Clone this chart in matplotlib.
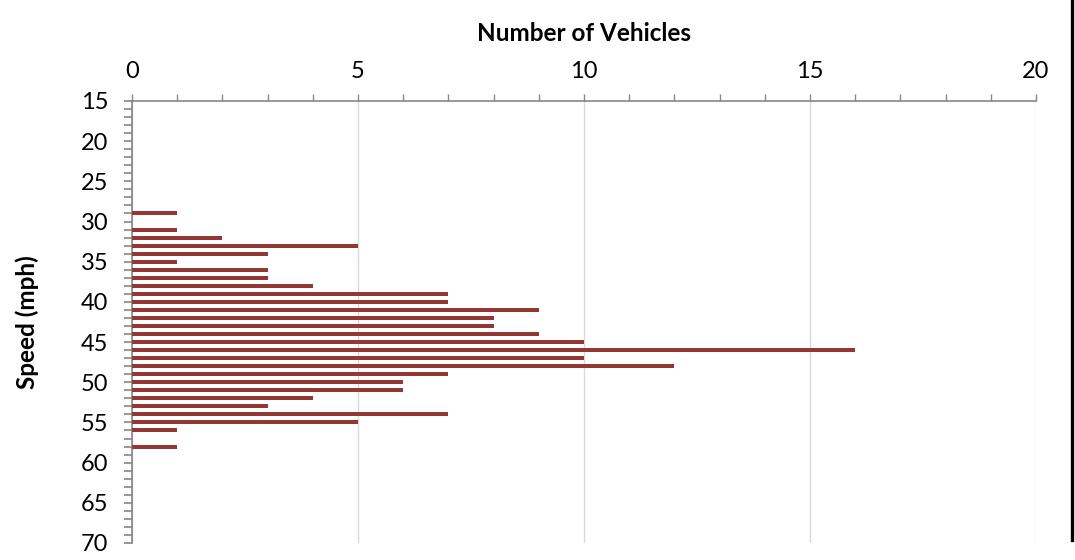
import matplotlib
matplotlib.use('Agg')
import matplotlib.pyplot as plt
from matplotlib.ticker import MultipleLocator

speeds = [29, 30, 31, 32, 33, 34, 35, 36, 37, 38, 39, 40, 41, 42, 43,
          44, 45, 46, 47, 48, 49, 50, 51, 52, 53, 54, 55, 56, 57, 58]
vehicles = [1, 0, 1, 2, 5, 3, 1, 3, 3, 4, 7, 7, 9, 8, 8,
            9, 10, 16, 10, 12, 7, 6, 6, 4, 3, 7, 5, 1, 0, 1]

plt.rcParams['font.family'] = ['Lato', 'DejaVu Sans']

fig = plt.figure(figsize=(10.75, 5.6), dpi=100)
ax = fig.add_axes([0.1228, 0.0304, 0.8409, 0.7893])

ax.barh(speeds, vehicles, height=0.5, color='#943634', zorder=3)

ax.set_xlim(0, 20)
ax.set_ylim(70, 15)
ax.xaxis.set_major_locator(MultipleLocator(5))
ax.xaxis.set_minor_locator(MultipleLocator(1))
ax.yaxis.set_major_locator(MultipleLocator(5))
ax.yaxis.set_minor_locator(MultipleLocator(1))

ax.xaxis.tick_top()
ax.xaxis.set_label_position('top')
ax.tick_params(axis='x', which='both', direction='out', length=5, width=1,
               color='#868686', labelsize=17, pad=9)
ax.tick_params(axis='y', which='both', direction='out', length=6, width=1.2,
               color='#868686', labelsize=17, pad=11)

ax.grid(axis='x', which='major', color='#d9d9d9', linewidth=1, zorder=0)

for side in ['bottom', 'right']:
    ax.spines[side].set_visible(False)
for side in ['top', 'left']:
    ax.spines[side].set_color('#868686')
    ax.spines[side].set_linewidth(1.2)

ax.set_xlabel('Number of Vehicles', fontsize=17.5, fontweight='bold', labelpad=14)
ax.set_ylabel('Speed (mph)', fontsize=17.5, fontweight='bold', labelpad=30)

# right border of the original frame
fig.add_artist(plt.Line2D([0.9972, 0.9972], [0.035, 1.0], color='black',
                          linewidth=2.4, transform=fig.transFigure))

fig.savefig('out.png', dpi=100)
